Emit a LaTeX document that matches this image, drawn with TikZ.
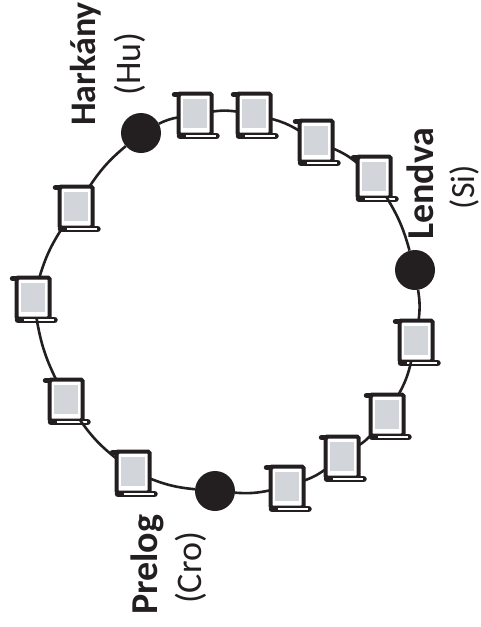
\documentclass[tikz,border=0pt]{standalone}
\usepackage{fontspec}
\setmainfont{Carlito}
\definecolor{ink}{HTML}{231F20}
\definecolor{paper}{HTML}{D2D5D9}
\tikzset{
  x=1pt,y=-1pt,
  scrollbody/.style={draw=ink,line width=4pt,fill=white,rounded corners=1.5pt,minimum width=33pt,minimum height=41pt,inner sep=0pt,outer sep=0pt},
  scrollbar/.style={draw=ink,line width=6.5pt,line cap=round},
  scrollgap/.style={draw=white,line width=1.3pt},
  scrolltab/.style={draw=ink,line width=5.5pt,line cap=round},
  sheet/.style={fill=paper,draw=none},
  town/.style={circle,fill=ink,draw=none,minimum size=40pt,inner sep=0pt},
  link/.style={draw=ink,line width=2.6pt},
  place/.style={rotate=90,font=\bfseries\fontsize{#1}{#1}\selectfont,text=ink,inner sep=0pt,anchor=base west},
  place/.default=38,
  land/.style={rotate=90,font=\fontsize{#1}{#1}\selectfont,text=ink,inner sep=0pt,anchor=base},
  land/.default=36
}
\newcommand{\scrollat}[3]{%
  \node[scrollbody] (#1) at (#2,#3) {};
  \draw[scrolltab] ([shift={(-20.5,-19.5)}]#1.center) -- ([shift={(-16,-19.5)}]#1.center);
  \fill[sheet] ([shift={(-12,-15.5)}]#1.center) rectangle ([shift={(12,14)}]#1.center);
  \draw[scrollbar] ([shift={(-15,22)}]#1.center) -- ([shift={(21.5,22)}]#1.center);
  \draw[scrollgap] ([shift={(-9.5,22)}]#1.center) -- ([shift={(21,22)}]#1.center);
}
\begin{document}
\begin{tikzpicture}
\useasboundingbox (0,0) rectangle (481,627);
\scrollat{a}{195}{114}
\scrollat{b}{254}{114}
\scrollat{c}{316}{141}
\scrollat{d}{374}{177}
\scrollat{e}{416}{341}
\scrollat{f}{387}{415}
\scrollat{g}{342}{457}
\scrollat{h}{287}{487}
\scrollat{i}{133}{472}
\scrollat{j}{66}{400}
\scrollat{k}{33}{298}
\scrollat{l}{76}{207}
\node[town] (hark) at (141,133) {};
\node[town] (lend) at (415,270) {};
\node[town] (prel) at (215,491) {};
\node[place=36] (t1) at (95,126) {Harkány};
\node[land] (t2) at (140,64) {(Hu)};
\node[place] (t3) at (433,240) {Lendva};
\node[land=34] (t4) at (474,187) {(Si)};
\node[place] (t5) at (157,615) {Prelog};
\node[land] (t6) at (201,568) {(Cro)};
\foreach \p/\q in {hark/a,a/b,b/c,c/d,d/lend,lend/e,e/f,f/g,g/h,h/prel,prel/i,i/j,j/k,k/l,l/hark}
  \draw[link] (\p) to[bend left=8] (\q);
\end{tikzpicture}
\end{document}
